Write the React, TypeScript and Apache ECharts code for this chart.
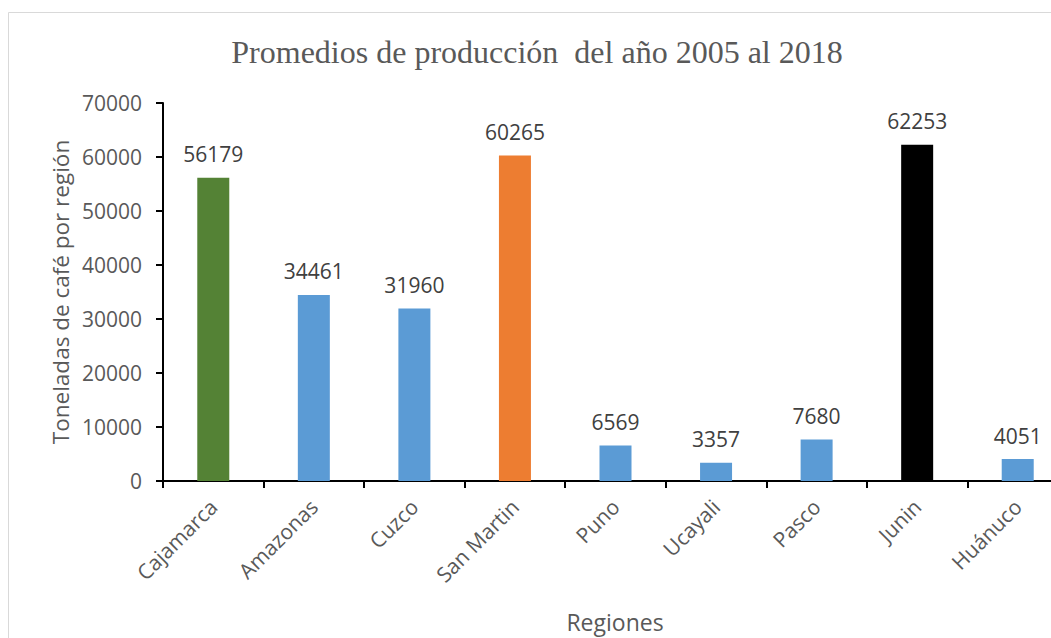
import React, { useEffect, useRef } from "react";
import * as echarts from "echarts";

const categories = ["Cajamarca", "Amazonas", "Cuzco", "San Martin", "Puno", "Ucayali", "Pasco", "Junin", "Huánuco"];
const values = [56179, 34461, 31960, 60265, 6569, 3357, 7680, 62253, 4051];
const barColors = ["#548235", "#5B9BD5", "#5B9BD5", "#ED7D31", "#5B9BD5", "#5B9BD5", "#5B9BD5", "#000000", "#5B9BD5"];
const titleText = "Promedios de producción  del año 2005 al 2018";
const yName = "Toneladas de café por región";
const xName = "Regiones";

const SANS = "'Open Sans', 'Noto Sans', sans-serif";
const GREY = "#595959";
const W = 1068;

export default function App() {
  const ref = useRef<HTMLDivElement>(null);
  useEffect(() => {
    if (!ref.current) return;
    const chart = echarts.init(ref.current, null, { renderer: "svg" });
    chart.setOption({
      animation: false,
      backgroundColor: "#ffffff",
      graphic: [
        {
          type: "rect",
          shape: { x: 8.5, y: 12.5, width: 1100, height: 700 },
          style: { fill: "none", stroke: "#D9D9D9", lineWidth: 1 },
          silent: true,
          z: -1,
        },
        {
          type: "text",
          x: 537,
          y: 52,
          style: {
            text: titleText,
            font: "32px 'Liberation Serif', 'Times New Roman', serif",
            fill: GREY,
            align: "center",
            verticalAlign: "middle",
          },
        },
        {
          type: "text",
          x: 615,
          y: 622,
          style: {
            text: xName,
            font: `23px ${SANS}`,
            fill: GREY,
            align: "center",
            verticalAlign: "middle",
          },
        },
        {
          type: "text",
          x: 60,
          y: 292,
          rotation: Math.PI / 2,
          style: {
            text: yName,
            font: `22.5px ${SANS}`,
            fill: GREY,
            align: "center",
            verticalAlign: "middle",
          },
        },
      ],
      grid: { left: 163, top: 103, right: 0, bottom: 157, containLabel: false },
      xAxis: {
        type: "category",
        data: categories,
        axisLine: { lineStyle: { color: "#000", width: 2 } },
        axisTick: { show: true, length: 7, lineStyle: { color: "#000", width: 2 } },
        axisLabel: {
          rotate: 45,
          interval: 0,
          margin: 22,
          color: GREY,
          fontFamily: SANS,
          fontSize: 21,
        },
      },
      yAxis: {
        type: "value",
        min: 0,
        max: 70000,
        interval: 10000,
        splitLine: { show: false },
        axisLine: { show: true, lineStyle: { color: "#000", width: 2 } },
        axisTick: { show: true, length: 7, lineStyle: { color: "#000", width: 2 } },
        axisLabel: {
          margin: 21,
          color: GREY,
          fontFamily: SANS,
          fontSize: 21,
          formatter: (v: number) => String(v),
        },
      },
      series: [
        {
          type: "bar",
          barWidth: 32,
          data: values.map((v, i) => ({ value: v, itemStyle: { color: barColors[i] } })),
          label: {
            show: true,
            position: "top",
            distance: 13,
            color: "#404040",
            fontFamily: SANS,
            fontSize: 21,
          },
        },
      ],
    });
    return () => chart.dispose();
  }, []);
  return (
    <div
      ref={ref}
      style={{ position: "fixed", left: 0, top: 0, width: W, height: 638 }}
    />
  );
}
